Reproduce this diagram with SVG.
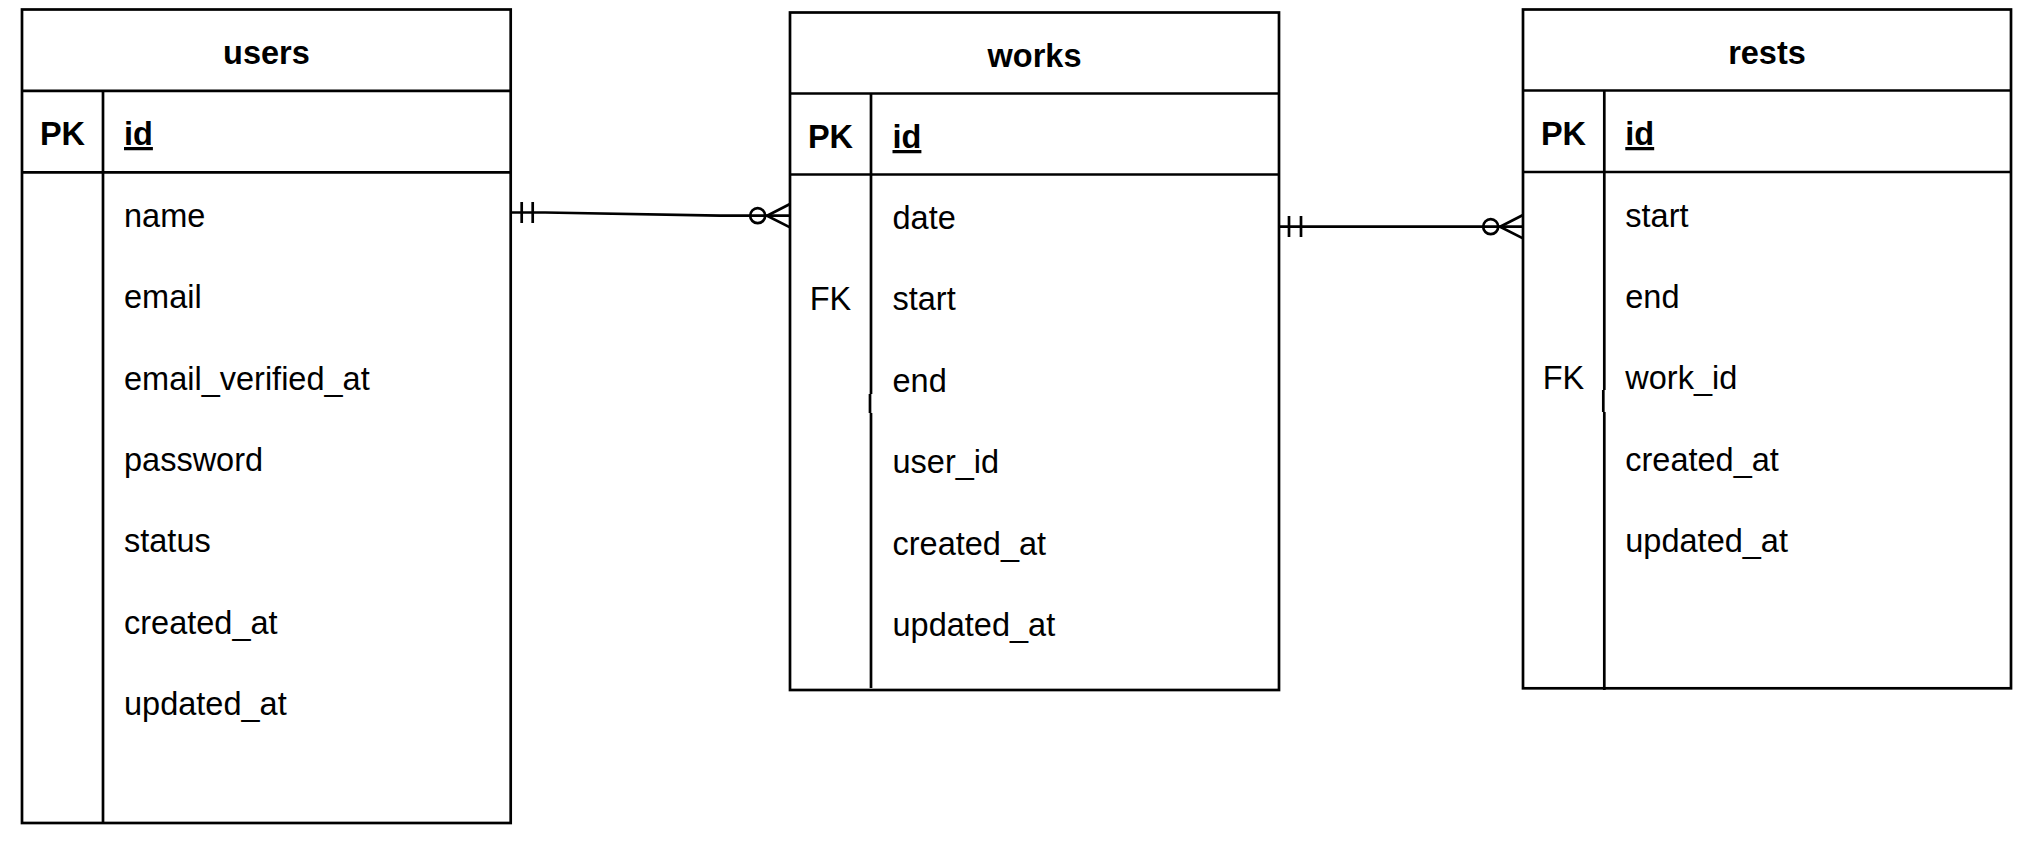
<svg xmlns="http://www.w3.org/2000/svg" width="2026" height="846" viewBox="0 0 2026 846">
<style>
.box{fill:#fff;stroke:#000;stroke-width:2.7}
.ln{fill:none;stroke:#000;stroke-width:2.7}
text{font-family:"Liberation Sans",Arial,Helvetica,sans-serif;font-size:32.5px;fill:#000}
.t{font-weight:bold;text-anchor:middle}
.k{text-anchor:middle}
.kb{font-weight:bold;text-anchor:middle}
.pk{font-weight:bold;text-decoration:underline}
</style>
<rect width="2026" height="846" fill="#fff"/>
<g id="users">
<rect class="box" x="22" y="9.5" width="488.7" height="813.5"/>
<line class="ln" x1="22" y1="90.9" x2="510.7" y2="90.9"/>
<line class="ln" x1="22" y1="172.3" x2="510.7" y2="172.3"/>
<line class="ln" x1="103" y1="90.9" x2="103" y2="823"/>
<text class="t" x="266.4" y="63.5">users</text>
<text class="kb" x="62.5" y="145">PK</text>
<text class="pk" x="124" y="145">id</text>
<text x="124" y="226.8">name</text>
<text x="124" y="308.2">email</text>
<text x="124" y="389.6">email_verified_at</text>
<text x="124" y="471">password</text>
<text x="124" y="552.4">status</text>
<text x="124" y="633.8">created_at</text>
<text x="124" y="715.2">updated_at</text>
</g>
<g id="works">
<rect class="box" x="790" y="12.5" width="489" height="677.5"/>
<line class="ln" x1="790" y1="93.5" x2="1279" y2="93.5"/>
<line class="ln" x1="790" y1="174.5" x2="1279" y2="174.5"/>
<line class="ln" x1="871" y1="93.5" x2="871" y2="394"/>
<line class="ln" x1="870" y1="394" x2="870" y2="413"/>
<line class="ln" x1="871" y1="413" x2="871" y2="688"/>
<text class="t" x="1034.5" y="66.5">works</text>
<text class="kb" x="830.5" y="148">PK</text>
<text class="pk" x="892.5" y="148">id</text>
<text x="892.5" y="229">date</text>
<text class="k" x="830.5" y="310.4">FK</text>
<text x="892.5" y="310.4">start</text>
<text x="892.5" y="391.8">end</text>
<text x="892.5" y="473.2">user_id</text>
<text x="892.5" y="554.6">created_at</text>
<text x="892.5" y="636">updated_at</text>
</g>
<g id="rests">
<rect class="box" x="1523" y="9.5" width="488" height="678.8"/>
<line class="ln" x1="1523" y1="90.5" x2="2011" y2="90.5"/>
<line class="ln" x1="1523" y1="172" x2="2011" y2="172"/>
<line class="ln" x1="1604.3" y1="90.5" x2="1604.3" y2="390"/>
<line class="ln" x1="1603.3" y1="390" x2="1603.3" y2="412"/>
<line class="ln" x1="1604.3" y1="412" x2="1604.3" y2="690"/>
<text class="t" x="1767" y="63.5">rests</text>
<text class="kb" x="1563.5" y="145">PK</text>
<text class="pk" x="1625.3" y="145">id</text>
<text x="1625.3" y="226.5">start</text>
<text x="1625.3" y="307.9">end</text>
<text class="k" x="1563.5" y="389.3">FK</text>
<text x="1625.3" y="389.3">work_id</text>
<text x="1625.3" y="470.7">created_at</text>
<text x="1625.3" y="552.1">updated_at</text>
</g>
<g id="connectors">
<path class="ln" d="M510.7 212.5 L545 212.5 L720 215.7 L790 215.7"/>
<line class="ln" x1="521.7" y1="202" x2="521.7" y2="223"/>
<line class="ln" x1="532.7" y1="202" x2="532.7" y2="223"/>
<circle class="ln" cx="757.7" cy="215.7" r="7.5"/>
<path class="ln" d="M790 204 L767 215.7 L790 227.4"/>
<line class="ln" x1="1279" y1="226.7" x2="1523" y2="226.7"/>
<line class="ln" x1="1289" y1="216" x2="1289" y2="237"/>
<line class="ln" x1="1301" y1="216" x2="1301" y2="237"/>
<circle class="ln" cx="1490.7" cy="226.7" r="7.5"/>
<path class="ln" d="M1523 215 L1500 226.7 L1523 238.4"/>
</g>
</svg>
